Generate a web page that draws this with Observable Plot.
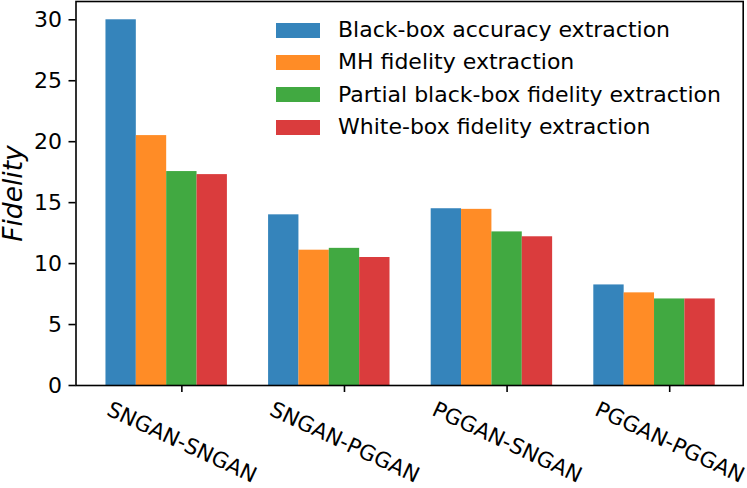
<!DOCTYPE html>
<html>
<head>
<meta charset="utf-8">
<script src="https://cdn.jsdelivr.net/npm/d3@7"></script>
<script src="https://cdn.jsdelivr.net/npm/@observablehq/plot@0.6"></script>
<style>
  html, body { margin: 0; padding: 0; background: white; }
  #wrap { position: relative; width: 747px; height: 488px; font-family: "DejaVu Sans", sans-serif; }
  #legend { position: absolute; left: 276px; top: 14px; }
  .row { display: flex; align-items: center; height: 32.3px; }
  .sw { width: 44px; height: 15px; margin-right: 18px; }
  .lab { font-size: 22px; color: #000; white-space: nowrap; line-height: 1; }
</style>
</head>
<body>
<div id="wrap"></div>
<script>
const groups = ["SNGAN-SNGAN", "SNGAN-PGGAN", "PGGAN-SNGAN", "PGGAN-PGGAN"];
const seriesNames = [
  "Black-box accuracy extraction",
  "MH fidelity extraction",
  "Partial black-box fidelity extraction",
  "White-box fidelity extraction"
];
const blackBoxAccuracy = [30.0, 14.0, 14.5, 8.25];
const mhFidelity = [20.5, 11.1, 14.45, 7.6];
const partialBlackBoxFidelity = [17.55, 11.25, 12.6, 7.1];
const whiteBoxFidelity = [17.3, 10.5, 12.2, 7.1];
const yTicks = [0, 5, 10, 15, 20, 25, 30];
const colors = ["#1f77b4", "#ff7f0e", "#2ca02c", "#d62728"];

const seriesValues = [blackBoxAccuracy, mhFidelity, partialBlackBoxFidelity, whiteBoxFidelity];
const barWidth = 0.1867;
const rows = [];
groups.forEach((g, gi) => {
  seriesValues.forEach((vals, si) => {
    rows.push({group: g, gi, series: seriesNames[si], si, value: vals[gi]});
  });
});

const chart = Plot.plot({
  width: 747,
  height: 488,
  marginLeft: 75.5,
  marginRight: 4.3,
  marginTop: 1,
  marginBottom: 103,
  style: {fontFamily: "DejaVu Sans, sans-serif", background: "white", color: "black", overflow: "visible"},
  x: {domain: [-0.651, 3.452], axis: null},
  y: {domain: [0, 31.5], axis: null},
  color: {domain: seriesNames, range: colors},
  marks: [
    Plot.rectY(rows, {
      x1: d => d.gi + (d.si - 2.5) * barWidth,
      x2: d => d.gi + (d.si - 1.5) * barWidth,
      y1: 0,
      y2: "value",
      fill: "series",
      fillOpacity: 0.9
    }),
    Plot.frame({stroke: "black", strokeWidth: 1.6}),
    Plot.axisY({
      ticks: yTicks,
      tickSize: 7,
      tickPadding: 7,
      fontSize: 22,
      strokeWidth: 1.6,
      fill: "black",
      label: null
    }),
    Plot.axisX({
      ticks: groups.map((g, i) => i),
      tickSize: 7,
      strokeWidth: 1.6,
      tickFormat: () => "",
      label: null
    }),
    Plot.text(groups, {
      x: (d, i) => i,
      frameAnchor: "bottom",
      dy: 57,
      rotate: 25,
      fontSize: 21.5,
      textAnchor: "middle",
      lineAnchor: "middle",
      fill: "black"
    }),
    Plot.text(["Fidelity"], {
      frameAnchor: "left",
      dx: -62.5,
      rotate: -90,
      fontSize: 26.5,
      fontStyle: "italic",
      textAnchor: "middle",
      lineAnchor: "middle",
      fill: "black"
    })
  ]
});

const wrap = document.getElementById("wrap");
wrap.appendChild(chart);

const legend = document.createElement("div");
legend.id = "legend";
seriesNames.forEach((name, i) => {
  const row = document.createElement("div");
  row.className = "row";
  const sw = document.createElement("div");
  sw.className = "sw";
  sw.style.background = colors[i];
  sw.style.opacity = 0.9;
  const lab = document.createElement("div");
  lab.className = "lab";
  lab.textContent = name;
  row.appendChild(sw);
  row.appendChild(lab);
  legend.appendChild(row);
});
wrap.appendChild(legend);
</script>
</body>
</html>
